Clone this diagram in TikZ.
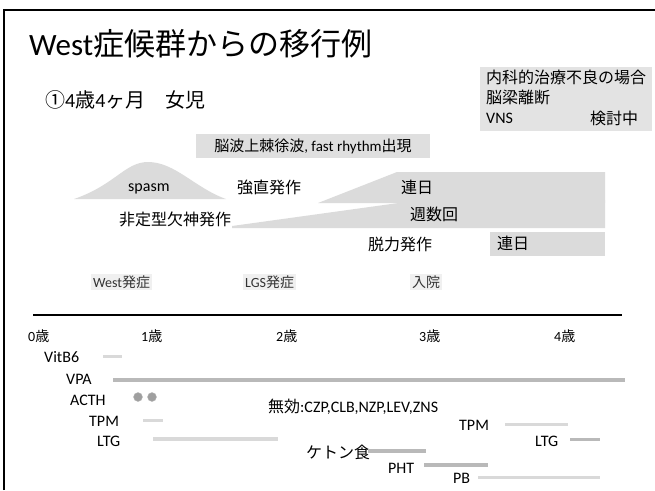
\documentclass[tikz,border=0pt]{standalone}
\usepackage{fontspec}
\setmainfont{Carlito}
\newfontfamily\jp{Noto Sans CJK JP}
\tikzset{
  lbl/.style={inner sep=0pt, anchor=west, font=\fontsize{16}{18}\selectfont},
  small/.style={inner sep=0pt, anchor=west, font=\fontsize{14}{16}\selectfont},
  shade/.style={fill=gray!28, draw=none},
  faint/.style={fill=gray!12, draw=none, inner sep=2pt, anchor=west, font=\fontsize{14}{16}\selectfont, text=black!80},
  bar/.style={fill=gray!55, draw=none},
  lightbar/.style={fill=gray!30, draw=none},
  dot/.style={circle, fill=gray!75, draw=gray!55, inner sep=0pt, minimum size=9pt}
}
\begin{document}
\begin{tikzpicture}[x=1pt,y=-1pt]
\useasboundingbox (0,0) rectangle (655,490);
% frame
\draw[line width=2pt] (4,490) -- (4,10) -- (655,10);
% title
\node[inner sep=0pt, anchor=west, font=\fontsize{31}{34}\selectfont] (title) at (29,44) {West{\jp 症候群からの移行例}};
\node[inner sep=0pt, anchor=west, font=\fontsize{20}{22}\selectfont] (sub) at (45,100) {{\jp ①}4{\jp 歳}4{\jp ヶ月\quad 女児}};
% top right box
\fill[gray!22] (480,67) rectangle (652,131);
\node[lbl] (t1) at (486,77) {\jp 内科的治療不良の場合};
\node[lbl] (t2) at (486,97) {\jp 脳梁離断};
\node[lbl] (t3) at (486,118) {VNS};
\node[lbl] (t4) at (590,118) {\jp 検討中};
% EEG box
\fill[gray!25] (196,134) rectangle (430,158);
\node[inner sep=0pt, font=\fontsize{15}{17}\selectfont] (eeg) at (313,146) {{\jp 脳波上棘徐波}, fast rhythm{\jp 出現}};
% shaded seizure regions
\path[shade] (74,199) .. controls (115,185) and (125,162) .. (148,162) .. controls (175,162) and (195,188) .. (226,199) -- cycle;
\path[shade] (318,203) -- (397,172) -- (605,172) -- (605,203) -- cycle;
\path[shade] (232,226) -- (420,200) -- (605,200) -- (605,228) -- (232,228) -- cycle;
\path[shade] (490,232) rectangle (605,256);
\node[lbl] (spasm) at (128,189) {spasm};
\node[lbl] (tonic) at (237,187) {\jp 強直発作};
\node[lbl] (daily1) at (401,187) {\jp 連日};
\node[lbl] (absence) at (119,219) {\jp 非定型欠神発作};
\node[lbl] (weekly) at (410,214) {\jp 週数回};
\node[lbl] (atonic) at (368,244) {\jp 脱力発作};
\node[lbl] (daily2) at (497,243) {\jp 連日};
% events
\node[faint] (west) at (91,282) {West{\jp 発症}};
\node[faint] (lgs) at (243,282) {LGS{\jp 発症}};
\node[faint] (adm) at (410,282) {\jp 入院};
% axis
\draw[line width=2.2pt] (33,315) -- (622,315);
\node[small] (a0) at (28,336) {0{\jp 歳}};
\node[small] (a1) at (141,336) {1{\jp 歳}};
\node[small] (a2) at (276,336) {2{\jp 歳}};
\node[small] (a3) at (419,336) {3{\jp 歳}};
\node[small] (a4) at (554,336) {4{\jp 歳}};
% drugs
\node[lbl] (vitb6) at (44,357) {VitB6};
\path[lightbar] (103,355) rectangle (122,358);
\node[lbl] (vpa) at (66,379) {VPA};
\path[bar] (113,378) rectangle (625,382);
\node[lbl] (acth) at (70,400) {ACTH};
\node[dot] (d1) at (138,397) {};
\node[dot] (d2) at (152,397) {};
\node[lbl] (inv) at (268,407) {{\jp 無効}:CZP,CLB,NZP,LEV,ZNS};
\node[lbl] (tpm1) at (89,421) {TPM};
\path[lightbar] (143,419) rectangle (163,422);
\node[lbl] (ltg1) at (97,441) {LTG};
\path[lightbar] (153,437) rectangle (278,441);
\node[lbl] (tpm2) at (459,425) {TPM};
\path[lightbar] (505,423) rectangle (568,426);
\node[lbl] (ltg2) at (535,441) {LTG};
\path[bar] (570,438) rectangle (600,441);
\node[lbl] (keto) at (306,452) {\jp ケトン食};
\path[bar] (368,449) rectangle (426,453);
\node[lbl] (pht) at (388,468) {PHT};
\path[bar] (424,463) rectangle (488,467);
\node[lbl] (pb) at (453,478) {PB};
\path[lightbar] (478,476) rectangle (600,479);
\end{tikzpicture}
\end{document}
